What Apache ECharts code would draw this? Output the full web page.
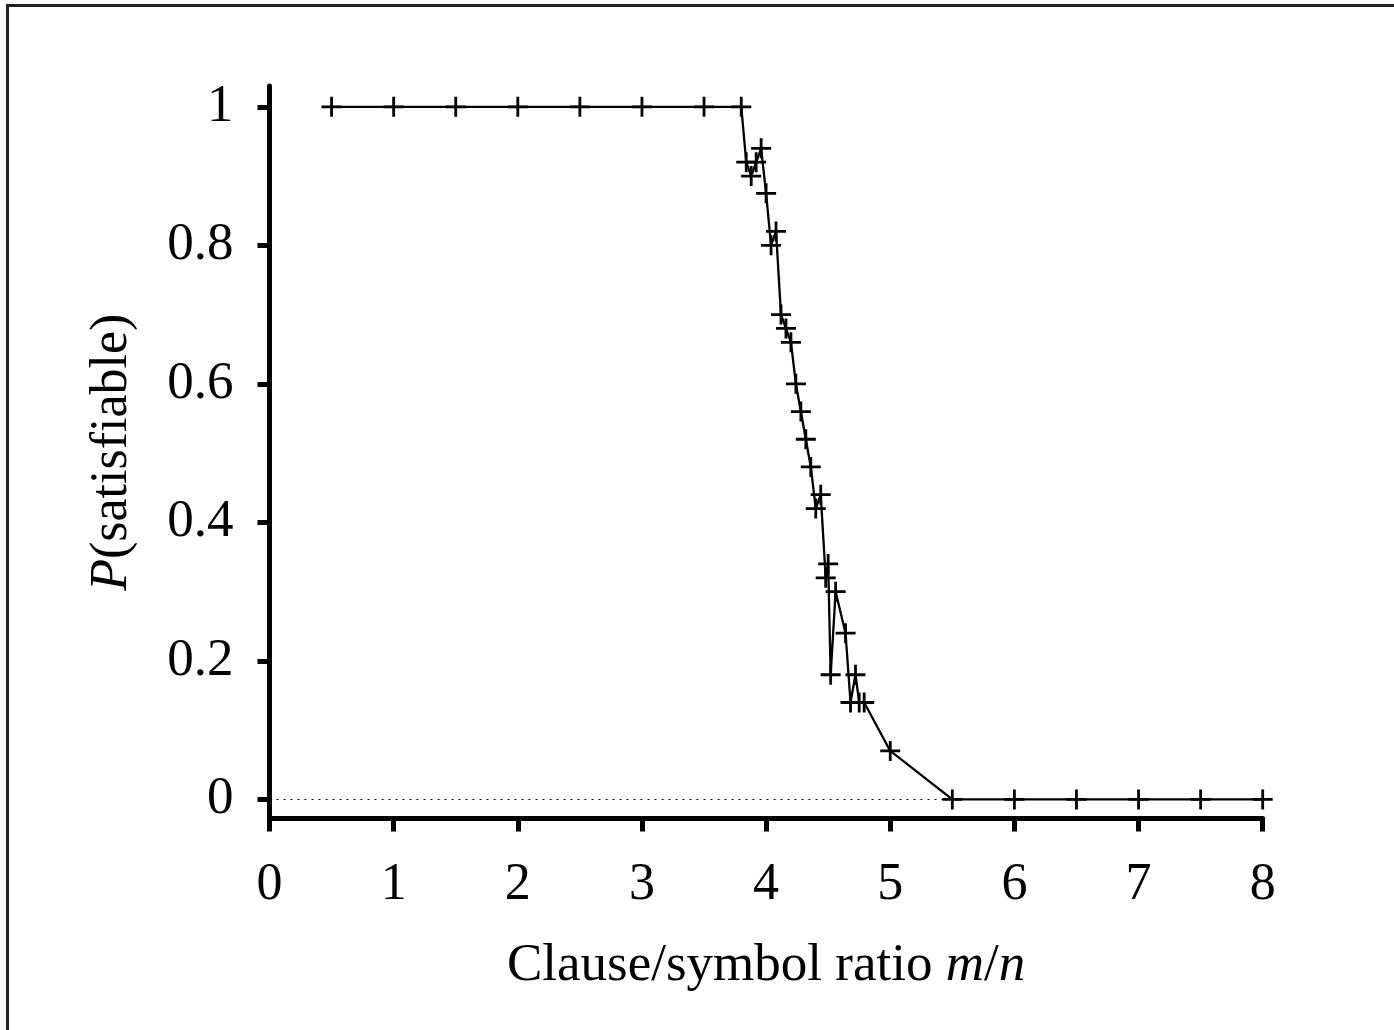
<!DOCTYPE html>
<html>
<head>
<meta charset="utf-8">
<script src="https://cdn.jsdelivr.net/npm/echarts@6/dist/echarts.min.js"></script>
<style>
html,body{margin:0;padding:0;background:#fff;}
#chart{width:1394px;height:1030px;}
</style>
</head>
<body>
<div id="chart"></div>
<script>
// Data
var ratioValues = [0.5, 1, 1.5, 2, 2.5, 3, 3.5, 3.8, 3.84, 3.88, 3.92, 3.96, 4.0, 4.04, 4.08, 4.12, 4.16, 4.2, 4.24, 4.28, 4.32, 4.36, 4.4, 4.44, 4.48, 4.5, 4.52, 4.56, 4.64, 4.68, 4.72, 4.75, 4.79, 5.0, 5.5, 6, 6.5, 7, 7.5, 8];
var probValues  = [1, 1, 1, 1, 1, 1, 1, 1, 0.92, 0.90, 0.92, 0.94, 0.875, 0.80, 0.82, 0.70, 0.68, 0.66, 0.60, 0.56, 0.52, 0.48, 0.42, 0.44, 0.32, 0.34, 0.18, 0.30, 0.24, 0.14, 0.18, 0.14, 0.14, 0.07, 0, 0, 0, 0, 0, 0];
var yTickValues = [0, 0.2, 0.4, 0.6, 0.8, 1];
var xTickValues = [0, 1, 2, 3, 4, 5, 6, 7, 8];

var seriesData = ratioValues.map(function (x, i) { return [x, probValues[i]]; });

var FONT = '"Liberation Serif", "DejaVu Serif", serif';
var PLUS = 'path://M0,8.6L8.6,8.6L8.6,0L11.4,0L11.4,8.6L20,8.6L20,11.4L11.4,11.4L11.4,20L8.6,20L8.6,11.4L0,11.4Z';

var chart = echarts.init(document.getElementById('chart'), null, {renderer: 'canvas'});
chart.setOption({
  backgroundColor: '#fff',
  animation: false,
  graphic: [{
    type: 'rect',
    shape: {x: 7.5, y: 5.5, width: 1500, height: 1200},
    style: {fill: 'none', stroke: '#222', lineWidth: 3},
    silent: true
  }],
  grid: {left: 269.5, right: 131.3, top: 86, bottom: 211.5, containLabel: false},
  xAxis: {
    type: 'value',
    min: 0, max: 8, interval: 1,
    splitLine: {show: false},
    axisLine: {show: true, onZero: false, lineStyle: {color: '#000', width: 5}},
    axisTick: {show: true, inside: false, length: 13, lineStyle: {color: '#000', width: 5}},
    axisLabel: {
      color: '#000', fontFamily: FONT, fontSize: 52, margin: 41,
      formatter: function (v) { return xTickValues.indexOf(v) >= 0 ? String(v) : ''; }
    },
    name: 'Clause/symbol ratio {i|m}/{i|n}',
    nameLocation: 'middle',
    nameGap: 121,
    nameTextStyle: {
      color: '#000', fontFamily: FONT, fontSize: 53,
      rich: {i: {fontStyle: 'italic', fontFamily: FONT, fontSize: 53, color: '#000'}}
    }
  },
  yAxis: {
    type: 'value',
    min: -0.0275, max: 1.03,
    splitLine: {show: false},
    axisLine: {show: true, onZero: false, lineStyle: {color: '#000', width: 5}},
    axisTick: {show: true, length: 12, customValues: yTickValues, lineStyle: {color: '#000', width: 5}},
    axisLabel: {
      color: '#000', fontFamily: FONT, fontSize: 53, margin: 36,
      customValues: yTickValues,
      formatter: function (v) { return String(v); }
    },
    name: '{i|P}(satisfiable)',
    nameLocation: 'middle',
    nameGap: 127,
    nameTextStyle: {
      color: '#000', fontFamily: FONT, fontSize: 52, lineHeight: 60,
      padding: [0, 0, 0, 0],
      rich: {i: {fontStyle: 'italic', fontFamily: FONT, fontSize: 52, color: '#000'}}
    }
  },
  series: [{
    type: 'line',
    data: seriesData,
    symbol: PLUS,
    symbolSize: 20,
    showAllSymbol: true,
    lineStyle: {color: '#000', width: 2.3},
    itemStyle: {color: '#000'},
    z: 3,
    markLine: {
      silent: true,
      symbol: 'none',
      label: {show: false},
      lineStyle: {color: '#000', width: 1, type: [2, 5]},
      data: [{yAxis: 0}],
      z: 1
    }
  }]
});
</script>
</body>
</html>
